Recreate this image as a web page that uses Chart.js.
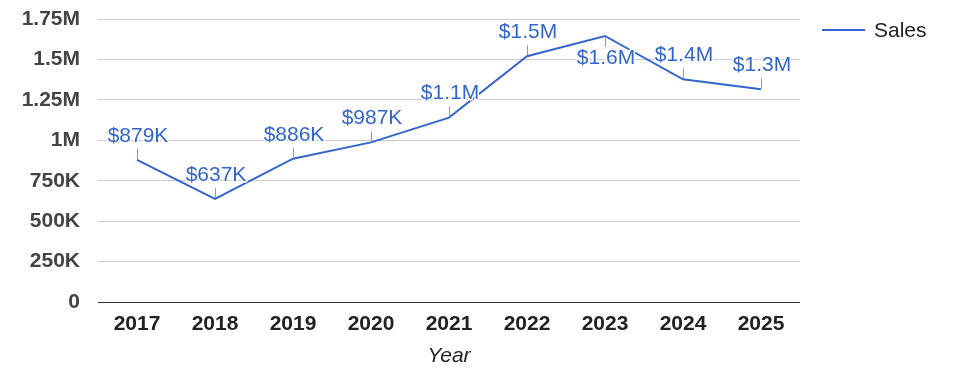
<!DOCTYPE html>
<html>
<head>
<meta charset="utf-8">
<script src="https://cdn.jsdelivr.net/npm/chart.js@4"></script>
<style>
    html, body { margin: 0; padding: 0; background: #fff; }
</style>
</head>
<body>
<canvas id="myChart" width="975" height="378"></canvas>
<script>
// Datos del gráfico
const years = ['2017', '2018', '2019', '2020', '2021', '2022', '2023', '2024', '2025'];
const sales = [879000, 637000, 886000, 987000, 1140000, 1520000, 1645000, 1377000, 1315000];
const yTickLabels = ['0', '250K', '500K', '750K', '1M', '1.25M', '1.5M', '1.75M'];

const FONT = 'Arial, "Liberation Sans", sans-serif';
const BLUE = '#3366cc';

// Formato de las etiquetas: $879K, $1.1M
function formatMoney(v) {
    if (v >= 1000000) return '$' + (v / 1000000).toFixed(1) + 'M';
    return '$' + Math.round(v / 1000) + 'K';
}

// Etiquetas de datos con línea guía
const pointLabels = {
    id: 'pointLabels',
    afterDatasetsDraw(chart) {
        const ctx = chart.ctx;
        const values = chart.data.datasets[0].data;
        const meta = chart.getDatasetMeta(0);
        ctx.save();
        meta.data.forEach((pt, i) => {
            const v = values[i];
            // el máximo local lleva la etiqueta debajo
            const inner = i > 0 && i < values.length - 1;
            const below = inner && v > values[i - 1] && v > values[i + 1];
            const x = Math.round(pt.x) + 0.5;
            const dir = below ? 1 : -1;

            ctx.strokeStyle = '#999';
            ctx.lineWidth = 1;
            ctx.beginPath();
            ctx.moveTo(x, pt.y + dir * 1);
            ctx.lineTo(x, pt.y + dir * 11);
            ctx.stroke();

            const ty = pt.y + (below ? 22 : -24);
            ctx.font = '21px ' + FONT;
            ctx.textAlign = 'center';
            ctx.textBaseline = 'middle';
            ctx.lineJoin = 'round';
            ctx.strokeStyle = '#fff';
            ctx.lineWidth = 3;
            ctx.strokeText(formatMoney(v), pt.x + 1, ty);
            ctx.fillStyle = BLUE;
            ctx.fillText(formatMoney(v), pt.x + 1, ty);
        });
        ctx.restore();
    }
};

// Leyenda a la derecha
const sideLegend = {
    id: 'sideLegend',
    afterDraw(chart) {
        const ctx = chart.ctx;
        const x0 = chart.chartArea.right + 22;
        const y0 = 30;
        ctx.save();
        ctx.strokeStyle = BLUE;
        ctx.lineWidth = 2;
        ctx.beginPath();
        ctx.moveTo(x0, y0);
        ctx.lineTo(x0 + 43, y0);
        ctx.stroke();
        ctx.font = '21px ' + FONT;
        ctx.fillStyle = '#222';
        ctx.textAlign = 'left';
        ctx.textBaseline = 'middle';
        ctx.fillText(chart.data.datasets[0].label, x0 + 52, y0 + 1);
        ctx.restore();
    }
};

const ctx = document.getElementById('myChart').getContext('2d');
const myChart = new Chart(ctx, {
    type: 'line',
    data: {
        labels: years,
        datasets: [{
            label: 'Sales',
            data: sales,
            borderColor: BLUE,
            backgroundColor: BLUE,
            borderWidth: 2,
            pointRadius: 0,
            tension: 0
        }]
    },
    options: {
        responsive: false,
        animation: false,
        layout: {
            autoPadding: false,
            padding: { top: 19, right: 175, bottom: 0, left: 0 }
        },
        plugins: {
            legend: { display: false },
            tooltip: { enabled: false }
        },
        scales: {
            x: {
                offset: true,
                grid: { display: false },
                border: { display: false },
                ticks: {
                    color: '#222',
                    font: { family: FONT, size: 21, weight: 'bold' },
                    padding: 2,
                    maxRotation: 0
                },
                title: {
                    display: true,
                    text: 'Year',
                    color: '#222',
                    font: { family: FONT, size: 21, style: 'italic' },
                    padding: { top: 0, bottom: 9 }
                },
                afterFit(scale) {
                    scale.height = 76;
                    scale.paddingLeft = 0;
                    scale.paddingRight = 0;
                }
            },
            y: {
                min: 0,
                max: 1750000,
                ticks: {
                    stepSize: 250000,
                    color: '#444',
                    font: { family: FONT, size: 21, weight: 'bold' },
                    padding: 18,
                    callback: (value, index) => yTickLabels[index]
                },
                grid: {
                    drawTicks: false,
                    color: (c) => c.tick && c.tick.value === 0 ? '#333' : '#ccc',
                    lineWidth: 1
                },
                border: { display: false },
                afterFit(scale) {
                    scale.width = 98;
                    scale.paddingTop = 0;
                    scale.paddingBottom = 0;
                }
            }
        }
    },
    plugins: [pointLabels, sideLegend]
});
</script>
</body>
</html>
